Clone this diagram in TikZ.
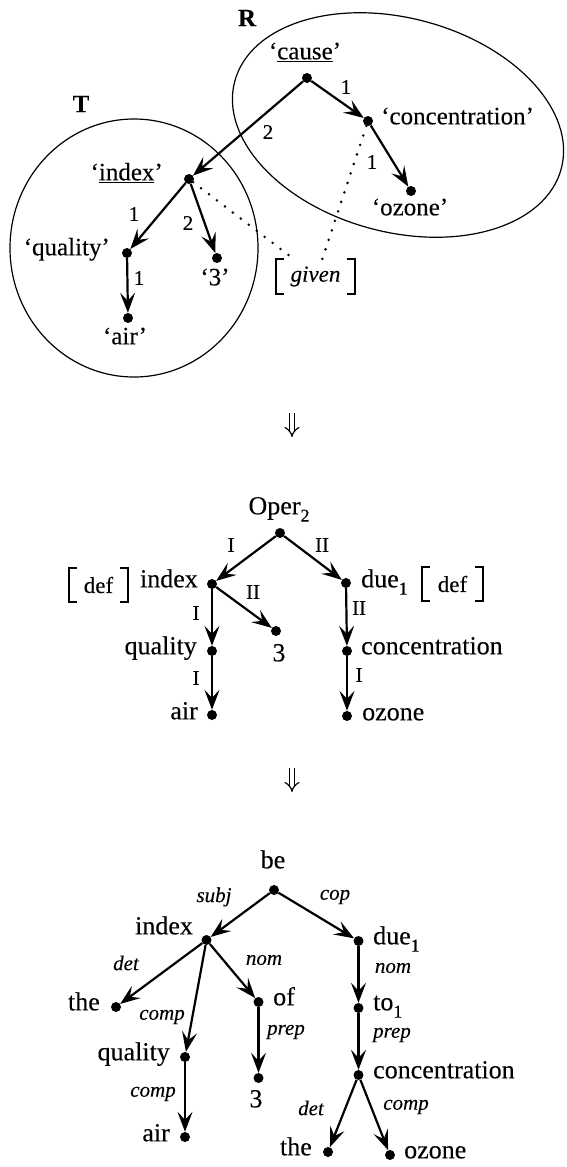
\documentclass[tikz,border=0pt]{standalone}
\usepackage{graphicx}
\usepackage{fontspec}
\setmainfont{Liberation Serif}[FakeBold=0.2]
\usetikzlibrary{arrows.meta}
\tikzset{
  dot/.style={circle, fill=black, inner sep=0pt, minimum size=10pt},
  wd/.style={inner sep=0pt, font=\fontsize{26}{30}\selectfont},
  twd/.style={inner sep=0pt, font=\fontsize{25}{30}\selectfont},
  lab/.style={inner sep=0pt, font=\fontsize{21}{24}\selectfont},
  ilab/.style={inner sep=0pt, font=\fontsize{21}{24}\selectfont\itshape},
  edge/.style={line width=2.2pt, -{Stealth[length=20pt,width=15pt,inset=8pt]}},
  dotted line/.style={line width=2.8pt, dash pattern=on 0pt off 10pt, line cap=round},
  region/.style={line width=1.2pt},
  brk/.style={line width=1.8pt},
  bnode/.style={inner sep=0pt, minimum height=34pt},
  imp/.style={double, double distance=4pt, line width=1.2pt, -{Implies}}
}
\newcommand{\subone}[1]{\raisebox{-0.28em}{\fontsize{18}{20}\selectfont #1}}
\begin{document}
\begin{tikzpicture}[x=1pt,y=-1pt]
\useasboundingbox (0,0) rectangle (566,1167);

% ---------- top: regions ----------
\draw[region, rotate around={-15:(398,125)}] (398,125) ellipse [x radius=169, y radius=107];
\draw[region] (134,248) ellipse [x radius=124, y radius=129];
\node[font=\fontsize{25}{30}\selectfont\bfseries, inner sep=0pt] (R) at (247,18) {R};
\node[font=\fontsize{25}{30}\selectfont\bfseries, inner sep=0pt] (T) at (81,104) {T};

% ---------- top: nodes ----------
\node[dot] (c) at (307,78) {};
\node[dot] (cn) at (368,121) {};
\node[dot] (oz) at (411,191) {};
\node[dot] (ix) at (189,179) {};
\node[dot] (q) at (127,253) {};
\node[dot] (th) at (217,258) {};
\node[dot] (a) at (128,318) {};

\node[twd, anchor=mid] (tc) at (305,57) {`\underline{cause}'};
\node[twd, anchor=mid west] (tcn) at (381,122) {`concentration'};
\node[twd, anchor=mid] (toz) at (410,213) {`ozone'};
\node[twd, anchor=mid east] (tix) at (163,178) {`\underline{index}'};
\node[twd, anchor=mid east] (tq) at (110,253) {`quality'};
\node[twd, anchor=mid] (tth) at (215,283) {`3'};
\node[twd, anchor=mid] (ta) at (125,342) {`air'};

\draw[edge] (c) -- (cn);
\draw[edge] (c) -- (ix);
\draw[edge] (cn) -- (oz);
\draw[edge] (ix) -- (q);
\draw[edge] (ix) -- (th);
\draw[edge] (q) -- (a);

\node[lab] (l1) at (346,87) {1};
\node[lab] (l2) at (268,132) {2};
\node[lab] (l3) at (372,162) {1};
\node[lab] (l4) at (134,214) {1};
\node[lab] (l5) at (188,223) {2};
\node[lab] (l6) at (139,278) {1};

\node[bnode, minimum width=79pt, font=\fontsize{23}{28}\selectfont\itshape] (gv) at (315.5,276.5) {given};
\draw[brk] ([xshift=8pt]gv.north west) -| (gv.south west) -- ([xshift=8pt]gv.south west);
\draw[brk] ([xshift=-8pt]gv.north east) -| (gv.south east) -- ([xshift=-8pt]gv.south east);
\coordinate (gvA) at (295,260);
\coordinate (gvB) at (322,260);
\draw[dotted line] (ix) -- (gvA);
\draw[dotted line] (cn) -- (gvB);

% ---------- arrow 1 ----------
\coordinate (d1a) at (292,413);
\coordinate (d1b) at (292,437);
\draw[imp] (d1a) -- (d1b);

% ---------- middle ----------
\node[wd, anchor=mid] (tO) at (279,512) {Oper\subone{2}};
\node[dot] (O) at (280,533) {};
\node[dot] (mix) at (212,584) {};
\node[dot] (mdue) at (346,583) {};
\node[dot] (m3) at (276,631) {};
\node[dot] (mq) at (212,651) {};
\node[dot] (ma) at (212,715) {};
\node[dot] (mcn) at (347,651) {};
\node[dot] (moz) at (347,716) {};

\node[wd, anchor=mid east] (tmix) at (198,585) {index};
\node[wd, anchor=mid west] (tmdue) at (361,585) {due\subone{1}};
\node[wd, anchor=mid] (tm3) at (279,659) {3};
\node[wd, anchor=mid east] (tmq) at (197,652) {quality};
\node[wd, anchor=mid east] (tma) at (198,717) {air};
\node[wd, anchor=mid west] (tmcn) at (361,652) {concentration};
\node[wd, anchor=mid west] (tmoz) at (362,718) {ozone};

\node[bnode, minimum width=59pt, font=\fontsize{23}{28}\selectfont] (df1) at (98.5,585) {def};
\draw[brk] ([xshift=8pt]df1.north west) -| (df1.south west) -- ([xshift=8pt]df1.south west);
\draw[brk] ([xshift=-8pt]df1.north east) -| (df1.south east) -- ([xshift=-8pt]df1.south east);
\node[bnode, minimum width=61pt, font=\fontsize{23}{28}\selectfont] (df2) at (452.5,584) {def};
\draw[brk] ([xshift=8pt]df2.north west) -| (df2.south west) -- ([xshift=8pt]df2.south west);
\draw[brk] ([xshift=-8pt]df2.north east) -| (df2.south east) -- ([xshift=-8pt]df2.south east);

\draw[edge] (O) -- (mix);
\draw[edge] (O) -- (mdue);
\draw[edge] (mix) -- (m3);
\draw[edge] (mix) -- (mq);
\draw[edge] (mq) -- (ma);
\draw[edge] (mdue) -- (mcn);
\draw[edge] (mcn) -- (moz);

\node[lab] (ml1) at (231,545) {I};
\node[lab] (ml2) at (322,545) {II};
\node[lab] (ml3) at (253,592) {II};
\node[lab] (ml4) at (196,613) {I};
\node[lab] (ml5) at (359,608) {II};
\node[lab] (ml6) at (196,678) {I};
\node[lab] (ml7) at (359,675) {I};

% ---------- arrow 2 ----------
\coordinate (d2a) at (292,768);
\coordinate (d2b) at (292,792);
\draw[imp] (d2a) -- (d2b);

% ---------- bottom ----------
\node[wd, anchor=mid] (tbe) at (273,866) {be};
\node[dot] (be) at (274,890) {};
\node[dot] (bix) at (206.5,940) {};
\node[dot] (bdue) at (358.5,941) {};
\node[dot] (bthe) at (116,1007) {};
\node[dot] (bof) at (258.5,1002) {};
\node[dot] (bto) at (358.5,1008) {};
\node[dot] (bq) at (185,1057) {};
\node[dot] (b3) at (258.5,1078) {};
\node[dot] (bcn) at (358.5,1075) {};
\node[dot] (ba) at (185,1137) {};
\node[dot] (bthe2) at (328,1152) {};
\node[dot] (boz) at (390,1155) {};

\node[wd, anchor=mid] (tbix) at (164,932) {index};
\node[wd, anchor=mid west] (tbdue) at (373,942) {due\subone{1}};
\node[wd, anchor=mid east] (tbthe) at (100,1008) {the};
\node[wd, anchor=mid west] (tbof) at (273,1003) {of};
\node[wd, anchor=mid west] (tbto) at (373,1008) {to\subone{1}};
\node[wd, anchor=mid east] (tbq) at (170,1058) {quality};
\node[wd, anchor=mid] (tb3) at (256,1105) {3};
\node[wd, anchor=mid west] (tbcn) at (373,1076) {concentration};
\node[wd, anchor=mid east] (tba) at (170,1139) {air};
\node[wd, anchor=mid east] (tbthe2) at (312,1153) {the};
\node[wd, anchor=mid west] (tboz) at (404,1156) {ozone};

\draw[edge] (be) -- (bix);
\draw[edge] (be) -- (bdue);
\draw[edge] (bix) -- (bthe);
\draw[edge] (bix) -- (bq);
\draw[edge] (bix) -- (bof);
\draw[edge] (bof) -- (b3);
\draw[edge] (bq) -- (ba);
\draw[edge] (bdue) -- (bto);
\draw[edge] (bto) -- (bcn);
\draw[edge] (bcn) -- (bthe2);
\draw[edge] (bcn) -- (boz);

\node[ilab] (bl1) at (214,897) {subj};
\node[ilab] (bl2) at (335,897) {cop};
\node[ilab] (bl3) at (126,963) {det};
\node[ilab] (bl4) at (264,960) {nom};
\node[ilab] (bl5) at (393,968) {nom};
\node[ilab] (bl6) at (162,1017) {comp};
\node[ilab] (bl7) at (286,1032) {prep};
\node[ilab] (bl8) at (392,1035) {prep};
\node[ilab] (bl9) at (153,1094) {comp};
\node[ilab] (bl10) at (311,1108) {det};
\node[ilab] (bl11) at (406,1107) {comp};
\end{tikzpicture}
\end{document}
